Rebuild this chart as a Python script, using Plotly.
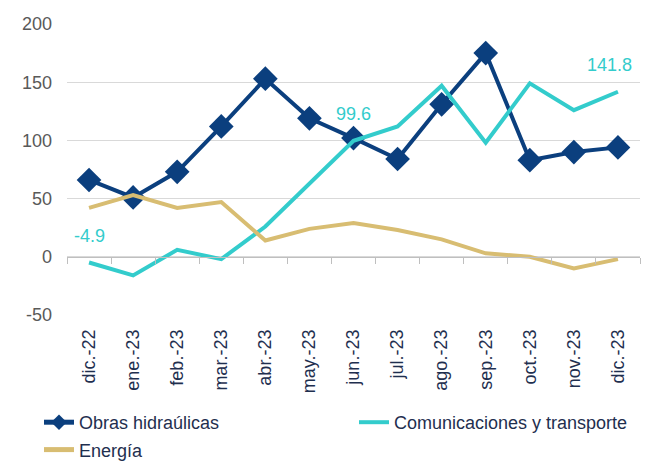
import plotly.graph_objects as go

categories = ["dic.-22", "ene.-23", "feb.-23", "mar.-23", "abr.-23", "may.-23", "jun.-23",
              "jul.-23", "ago.-23", "sep.-23", "oct.-23", "nov.-23", "dic.-23"]
obras = [66, 51, 73, 112, 153, 119, 102, 84, 131, 175, 83, 90, 94]
comunicaciones = [-4.9, -16, 6, -2, 26, 63, 99.6, 112, 147, 98, 149, 126, 141.8]
energia = [42, 53, 42, 47, 14, 24, 29, 23, 15, 3, 0, -10, -2]
label_idx = [0, 6, 12]
yticks = [-50, 0, 50, 100, 150, 200]
yticklabels = ["-50", "0", "50", "100", "150", "200"]

NAVY = "#0B3F7E"
CYAN = "#33CCCC"
GOLD = "#D8BD72"
TEXT = "#1F2F4F"
FONT = "Liberation Sans, Arial, sans-serif"

W, H = 641, 454  # page body has an 8px margin in the 649x462 window

fig = go.Figure()
fig.add_trace(go.Scatter(x=categories, y=obras, name="Obras hidraúlicas", mode="lines+markers",
                         legend="legend", legendgroup="g1",
                         line=dict(color=NAVY, width=4),
                         marker=dict(symbol="diamond", size=19, color=NAVY)))
fig.add_trace(go.Scatter(x=categories, y=comunicaciones, name="Comunicaciones y transporte",
                         legend="legend2",
                         mode="lines", line=dict(color=CYAN, width=4)))
fig.add_trace(go.Scatter(x=categories, y=energia, name="Energía", mode="lines",
                         legend="legend", legendgroup="g3", xaxis="x2", yaxis="y",
                         line=dict(color=GOLD, width=4)))

for i in label_idx:
    fig.add_annotation(x=categories[i], y=comunicaciones[i], text=f"{comunicaciones[i]:.1f}",
                       showarrow=False, yshift=27, xshift=(-8 if i == len(categories) - 1 else 0),
                       font=dict(family=FONT, size=18, color=CYAN))

leg_top = 396
fig.update_layout(
    width=W, height=H,
    margin=dict(l=59, r=9, t=16, b=147, autoexpand=False),
    paper_bgcolor="white", plot_bgcolor="white",
    font=dict(family=FONT, size=18, color=TEXT),
    showlegend=True,
    legend=dict(orientation="v", xref="container", yref="container",
                x=31 / W, xanchor="left", y=1 - leg_top / H, yanchor="top",
                font=dict(family=FONT, size=18, color=TEXT), itemsizing="constant",
                tracegroupgap=1, bgcolor="rgba(0,0,0,0)"),
    legend2=dict(orientation="v", xref="container", yref="container",
                 x=346 / W, xanchor="left", y=1 - leg_top / H, yanchor="top",
                 font=dict(family=FONT, size=18, color=TEXT), bgcolor="rgba(0,0,0,0)"),
    xaxis=dict(type="category", categoryorder="array", categoryarray=categories,
               range=[-0.5, len(categories) - 0.5], automargin=False,
               tickangle=-90, showgrid=False, showline=False, ticks="",
               zeroline=False, ticklabelstandoff=10,
               tickfont=dict(family=FONT, size=18, color=TEXT)),
    xaxis2=dict(type="category", categoryorder="array", categoryarray=categories,
                matches="x", overlaying="x", anchor="free", position=0.2,
                showticklabels=False, showgrid=False, showline=True, linecolor="#BFBFBF",
                linewidth=1, ticks="outside", ticklen=6, tickcolor="#BFBFBF",
                tickson="boundaries", automargin=False),
    yaxis=dict(range=[-50, 200], tickvals=yticks, ticktext=yticklabels, automargin=False,
               showgrid=True, gridcolor="#D9D9D9",
               gridwidth=1, zeroline=False, showline=False, ticks="",
               ticklabelstandoff=14,
               tickfont=dict(family=FONT, size=18, color="#595959")),
)

fig.write_html("out.html")
